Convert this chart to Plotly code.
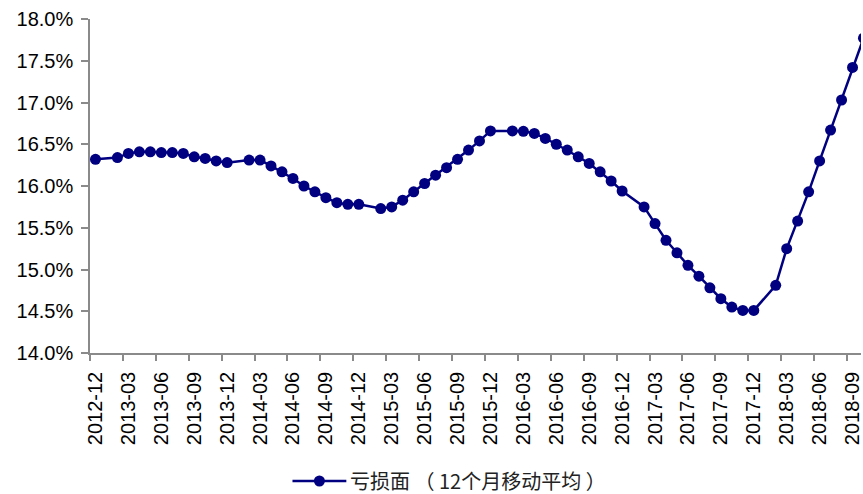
import plotly.graph_objects as go

# Monthly loss ratio, 12-month moving average (%). January is not published.
months = [
    "2012-12",
    "2013-02", "2013-03", "2013-04", "2013-05", "2013-06", "2013-07", "2013-08", "2013-09", "2013-10", "2013-11", "2013-12",
    "2014-02", "2014-03", "2014-04", "2014-05", "2014-06", "2014-07", "2014-08", "2014-09", "2014-10", "2014-11", "2014-12",
    "2015-02", "2015-03", "2015-04", "2015-05", "2015-06", "2015-07", "2015-08", "2015-09", "2015-10", "2015-11", "2015-12",
    "2016-02", "2016-03", "2016-04", "2016-05", "2016-06", "2016-07", "2016-08", "2016-09", "2016-10", "2016-11", "2016-12",
    "2017-02", "2017-03", "2017-04", "2017-05", "2017-06", "2017-07", "2017-08", "2017-09", "2017-10", "2017-11", "2017-12",
    "2018-02", "2018-03", "2018-04", "2018-05", "2018-06", "2018-07", "2018-08", "2018-09", "2018-10",
]
loss_ratio = [
    16.32,
    16.34, 16.39, 16.41, 16.41, 16.40, 16.40, 16.39, 16.35, 16.33, 16.30, 16.28,
    16.31, 16.31, 16.24, 16.17, 16.09, 16.00, 15.93, 15.86, 15.80, 15.78, 15.78,
    15.73, 15.75, 15.83, 15.93, 16.03, 16.13, 16.22, 16.32, 16.43, 16.54, 16.66,
    16.66, 16.655, 16.63, 16.57, 16.50, 16.43, 16.35, 16.27, 16.17, 16.06, 15.94,
    15.75, 15.55, 15.35, 15.20, 15.05, 14.92, 14.78, 14.65, 14.55, 14.51, 14.51,
    14.81, 15.25, 15.58, 15.93, 16.30, 16.67, 17.03, 17.42, 17.77,
]
tick_labels = [
    "2012-12", "2013-03", "2013-06", "2013-09", "2013-12", "2014-03", "2014-06", "2014-09",
    "2014-12", "2015-03", "2015-06", "2015-09", "2015-12", "2016-03", "2016-06", "2016-09",
    "2016-12", "2017-03", "2017-06", "2017-09", "2017-12", "2018-03", "2018-06", "2018-09",
]
series_name = "亏损面（12个月移动平均）"


def month_index(label, start="2012-12"):
    y, m = map(int, label.split("-"))
    y0, m0 = map(int, start.split("-"))
    return (y - y0) * 12 + (m - m0)


x_vals = [month_index(m) for m in months]
tick_pos = [month_index(t) for t in tick_labels]
boundary_pos = [p - 0.5 for p in tick_pos]

NAVY = "#000080"
AXIS = "#8a8a8a"
W, H = 863, 494
L, R, T, B = 90, 0, 19, 141
plot_w, plot_h = W - L - R, H - T - B


def px_x(p):
    return (p - L) / plot_w


def px_y(p):
    return (H - B - p) / plot_h


fig = go.Figure()
fig.add_trace(go.Scatter(
    x=x_vals, y=loss_ratio, mode="lines+markers", name=series_name,
    line=dict(color=NAVY, width=2.5),
    marker=dict(color=NAVY, size=11),
    showlegend=False,
))

# legend drawn as line + dot + label under the axis
ly = 481
fig.add_shape(type="line", xref="paper", yref="paper",
              x0=px_x(293), x1=px_x(347), y0=px_y(ly), y1=px_y(ly),
              line=dict(color=NAVY, width=2.5))
r = 5.5
fig.add_shape(type="circle", xref="paper", yref="paper",
              x0=px_x(320 - r), x1=px_x(320 + r), y0=px_y(ly + r), y1=px_y(ly - r),
              fillcolor=NAVY, line=dict(color=NAVY, width=0))
legend_text = "亏损面 （ 12个月移动平均 ）"
fig.add_annotation(xref="paper", yref="paper", x=px_x(349), y=px_y(ly),
                   xanchor="left", yanchor="middle", showarrow=False,
                   text=legend_text,
                   font=dict(family="Noto Sans CJK SC", size=20, color="#222222"))

fig.update_layout(
    width=W, height=H,
    margin=dict(l=L, r=R, t=T, b=B, pad=0),
    paper_bgcolor="white", plot_bgcolor="white",
    font=dict(family="Liberation Sans, Arial", color="#000000"),
    xaxis=dict(
        range=[-0.5, -0.5 + plot_w / 11.0],
        tickmode="array", tickvals=tick_pos, ticktext=tick_labels,
        tickangle=-90, ticks="", tickfont=dict(size=20),
        ticklabelstandoff=9, ticklabeloverflow="allow",
        showgrid=False, zeroline=False,
        showline=True, linecolor=AXIS, linewidth=1.5,
        minor=dict(tickmode="array", tickvals=boundary_pos, ticks="outside",
                   ticklen=6, tickcolor=AXIS, tickwidth=1.5, showgrid=False),
    ),
    yaxis=dict(
        range=[14, 18], dtick=0.5, tick0=14,
        tickformat=".1f", ticksuffix="%",
        ticks="outside", ticklen=7, tickcolor=AXIS, tickwidth=1.5,
        tickfont=dict(size=20), ticklabelstandoff=4,
        showgrid=False, zeroline=False,
        showline=True, linecolor=AXIS, linewidth=1.5,
    ),
)

fig.write_html("out.html")
